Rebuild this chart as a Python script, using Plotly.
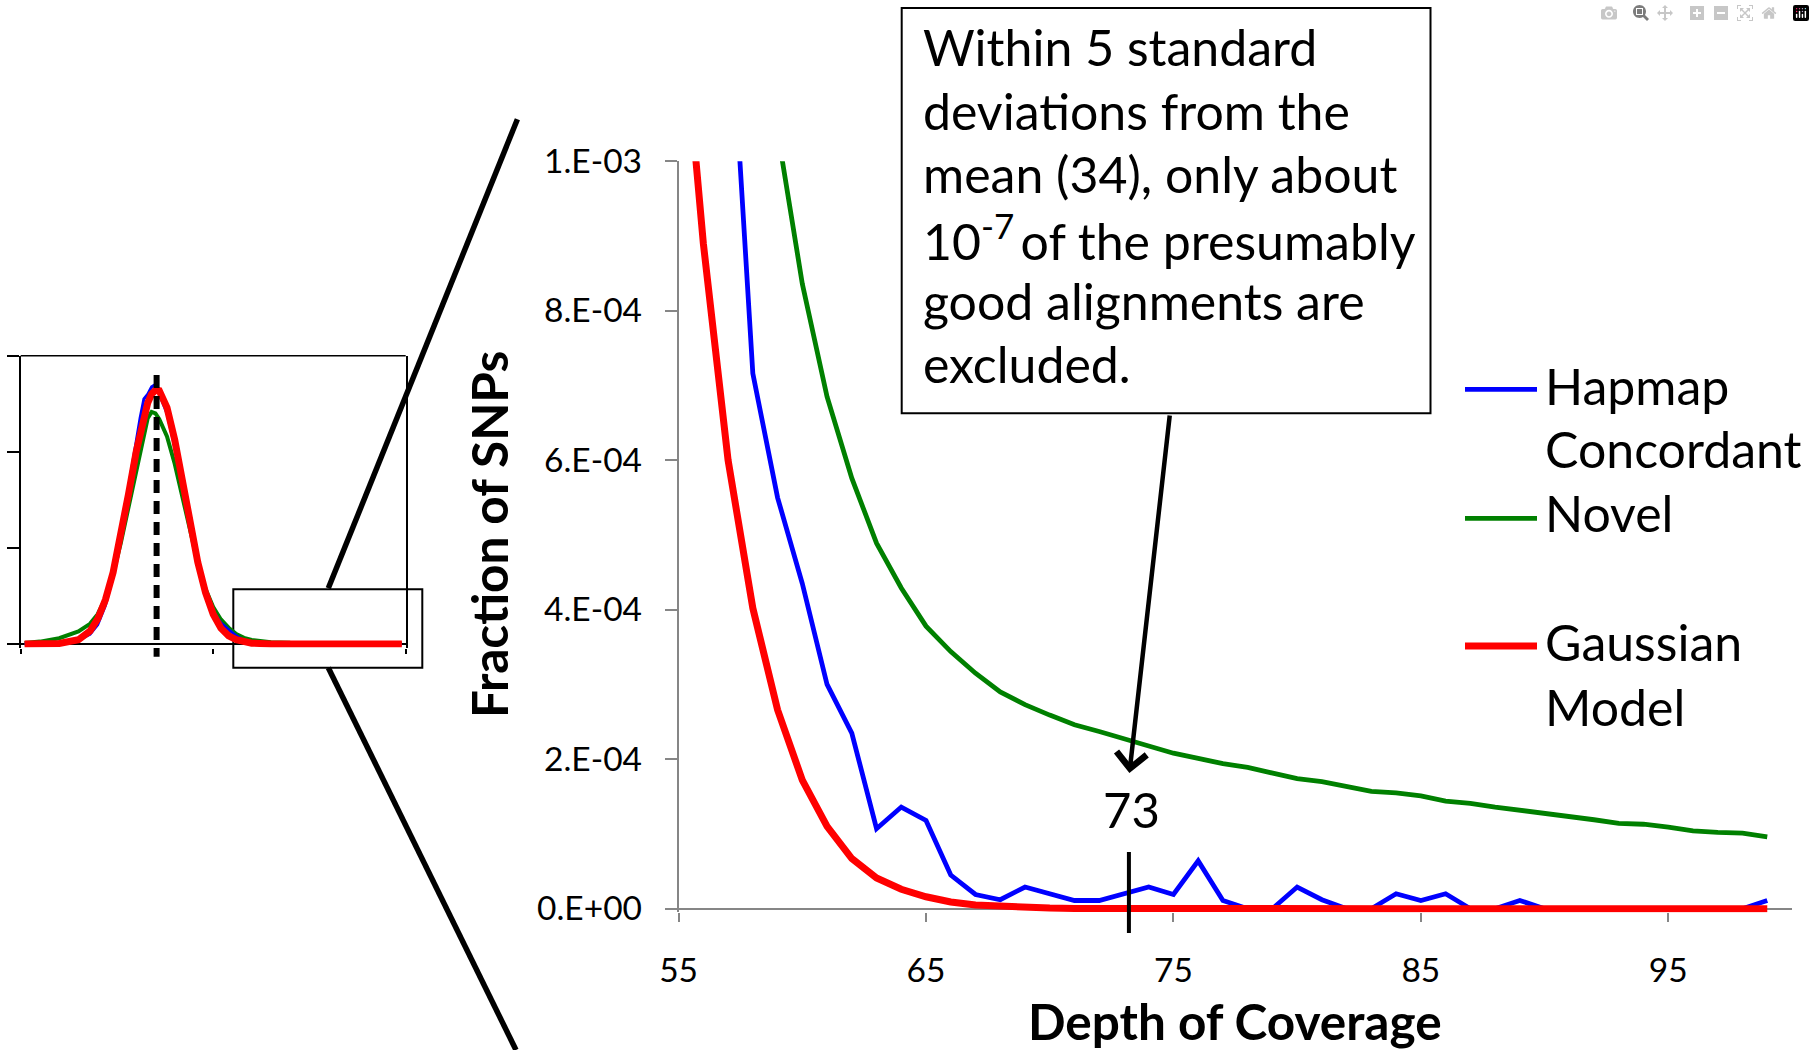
import plotly.graph_objects as go

W, H = 1815, 1050
FONT = "Lato, 'Open Sans', sans-serif"

# ---------------- data (main, zoomed view) ----------------
depth = [55, 56, 57, 58, 59, 60, 61, 62, 63, 64, 65, 66, 67, 68, 69, 70, 71, 72, 73, 74,
         75, 76, 77, 78, 79, 80, 81, 82, 83, 84, 85, 86, 87, 88, 89, 90, 91, 92, 93, 94,
         95, 96, 97, 98, 99]
# fractions in units of 1e-4
hapmap_concordant = [26.0, 17.0, 12.6, 7.16, 5.50, 4.35, 3.00, 2.35, 1.07, 1.36,
                     1.18, 0.45, 0.19, 0.12, 0.29, 0.20, 0.11, 0.11, 0.20, 0.29,
                     0.19, 0.64, 0.11, 0.0, 0.0, 0.29, 0.12, 0.0, 0.0, 0.20,
                     0.11, 0.20, 0.0, 0.0, 0.11, 0.0, 0.0, 0.0, 0.0, 0.0,
                     0.0, 0.0, 0.0, 0.0, 0.11]
novel = [27.0, 20.5, 15.8, 12.7, 10.4, 8.36, 6.85, 5.76, 4.89, 4.29,
         3.78, 3.44, 3.15, 2.90, 2.73, 2.59, 2.46, 2.37, 2.27, 2.17,
         2.08, 2.01, 1.94, 1.89, 1.82, 1.74, 1.70, 1.64, 1.57, 1.55,
         1.51, 1.44, 1.41, 1.36, 1.32, 1.28, 1.23, 1.19, 1.14, 1.13,
         1.09, 1.04, 1.02, 1.01, 0.96]
gaussian_model = [12.6, 8.9, 6.0, 4.02, 2.66, 1.72, 1.10, 0.67, 0.41, 0.26,
                  0.16, 0.09, 0.05, 0.03, 0.015, 0.008, 0.004, 0.002, 0.001, 0.0005,
                  0.0, 0.0, 0.0, 0.0, 0.0, 0.0, 0.0, 0.0, 0.0, 0.0,
                  0.0, 0.0, 0.0, 0.0, 0.0, 0.0, 0.0, 0.0, 0.0, 0.0,
                  0.0, 0.0, 0.0, 0.0, 0.0]
UNIT = 1e-4

# ---------------- data (overview inset) ----------------
overview_depth = [1, 5, 10, 15, 18, 20, 22, 24, 26, 28, 30, 31, 32, 33, 34, 35, 36, 38,
                  40, 42, 44, 46, 48, 50, 52, 54, 56, 58, 60, 65, 70, 80, 90, 99]
overview_hapmap = [0.0, 0.00003, 0.0002, 0.0008, 0.0020, 0.0040, 0.0080, 0.0140, 0.0222,
                   0.0325, 0.0425, 0.0470, 0.0510, 0.0520, 0.0535, 0.0540, 0.0520, 0.0480,
                   0.0410, 0.0325, 0.0240, 0.0165, 0.0108, 0.0068, 0.0044, 0.0030, 0.0017,
                   0.00072, 0.000435, 0.000118, 0.00002, 0.00003, 0.0, 0.00001]
overview_novel = [0.0002, 0.0005, 0.0012, 0.0026, 0.0042, 0.0062, 0.0095, 0.0145, 0.0210,
                  0.0285, 0.0365, 0.0400, 0.0435, 0.0470, 0.0483, 0.0480, 0.0468, 0.0432,
                  0.0375, 0.0305, 0.0232, 0.0168, 0.0115, 0.0077, 0.0051, 0.0034, 0.00205,
                  0.00127, 0.00084, 0.00038, 0.00026, 0.00017, 0.00013, 0.0001]
overview_gaussian = [0.0, 0.0, 0.0001, 0.0009, 0.0027, 0.0052, 0.0092, 0.0149, 0.0224,
                     0.0312, 0.0400, 0.0440, 0.0475, 0.0502, 0.0520, 0.0528, 0.0527, 0.0492,
                     0.0425, 0.0339, 0.0250, 0.0170, 0.0107, 0.0062, 0.0033, 0.0017, 0.0009,
                     0.0004, 0.00017, 0.00002, 0.0, 0.0, 0.0, 0.0]

x_tick_vals = [55, 65, 75, 85, 95]
y_tick_vals = [0, 2e-4, 4e-4, 6e-4, 8e-4, 1e-3]
y_tick_text = ["0.E+00", "2.E-04", "4.E-04", "6.E-04", "8.E-04", "1.E-03"]
overview_x_ticks = [0, 50, 100]
overview_y_ticks = [0, 0.02, 0.04, 0.06]

series_colors = ["#0000FF", "#008000", "#FF0000"]
x_title = "Depth of Coverage"
y_title = "Fraction of SNPs"
box_lines = ["Within 5 standard", "deviations from the", "mean (34), only about",
             "10<sup>-7</sup>\u2009of the presumably", "good alignments are", "excluded."]
legend_text = [("Hapmap", 405.0), ("Concordant", 468.3), ("Novel", 532.7),
               ("Gaussian", 661.7), ("Model", 726.7)]
cutoff_depth = 73.2
cutoff_label = "73"
mean_depth = 35.3


def px(x):
    return x / W


def py(y):
    return 1 - y / H


GRAY = "#868686"

fig = go.Figure()

# inset traces
fig.add_trace(go.Scatter(x=overview_depth, y=overview_novel, mode="lines",
                         line=dict(color=series_colors[1], width=4), xaxis="x2", yaxis="y2",
                         hoverinfo="skip"))
fig.add_trace(go.Scatter(x=overview_depth, y=overview_hapmap, mode="lines",
                         line=dict(color=series_colors[0], width=3), xaxis="x2", yaxis="y2",
                         hoverinfo="skip"))
fig.add_trace(go.Scatter(x=overview_depth, y=overview_gaussian, mode="lines",
                         line=dict(color=series_colors[2], width=7), xaxis="x2", yaxis="y2",
                         hoverinfo="skip"))

# main traces
fig.add_trace(go.Scatter(x=depth, y=[v * UNIT for v in hapmap_concordant], mode="lines",
                         name="Hapmap Concordant", line=dict(color=series_colors[0], width=4.8)))
fig.add_trace(go.Scatter(x=depth, y=[v * UNIT for v in novel], mode="lines",
                         name="Novel", line=dict(color=series_colors[1], width=4.8)))
fig.add_trace(go.Scatter(x=depth, y=[v * UNIT for v in gaussian_model], mode="lines",
                         name="Gaussian Model", line=dict(color=series_colors[2], width=7)))

# geometry (pixels)
main_left, main_right = 678.6, 1792.0
y0_px, ppu = 908.7, 747.5  # pixel of 0, pixels per 1e-3
y_top_px = y0_px - ppu
y_ext = 5e-6
y_bot_px = y0_px + y_ext / 1e-3 * ppu

in_left, in_right = 20.7, 405.7
in_y0, in_top = 644.0, 355.7
in_ext = 0.00075
in_bot = in_y0 + in_ext / 0.06 * (in_y0 - in_top)

fig.update_layout(
    width=W, height=H, autosize=False,
    margin=dict(l=0, r=0, t=0, b=0, pad=0, autoexpand=False),
    paper_bgcolor="white", plot_bgcolor="rgba(0,0,0,0)",
    showlegend=False,
    font=dict(family=FONT, color="black"),
    xaxis=dict(domain=[px(main_left), px(main_right)], range=[55, 100],
               tickmode="array", tickvals=x_tick_vals, ticks="outside",
               ticklen=920.7 - y_bot_px, tickwidth=1.75, tickcolor=GRAY,
               showline=False, showgrid=False, zeroline=False, automargin=False,
               tickfont=dict(family=FONT, size=33.5, color="black"),
               ticklabelstandoff=20, anchor="y"),
    yaxis=dict(domain=[py(y_bot_px), py(y_top_px)], range=[-y_ext, 1e-3],
               tickmode="array", tickvals=y_tick_vals, ticktext=y_tick_text,
               ticks="outside", ticklen=12, tickwidth=1.75, tickcolor=GRAY,
               showline=True, linecolor=GRAY, linewidth=1.75,
               zeroline=True, zerolinecolor=GRAY, zerolinewidth=1.75, automargin=False,
               showgrid=False, tickfont=dict(family=FONT, size=33.5, color="black"),
               ticklabelstandoff=16, anchor="x"),
    xaxis2=dict(domain=[px(in_left), px(in_right)], range=[0, 100],
                tickmode="array", tickvals=overview_x_ticks, ticks="outside",
                ticklen=653.3 - in_bot, tickwidth=1.5, tickcolor="black",
                showticklabels=False, showline=False, showgrid=False, zeroline=False,
                automargin=False, anchor="y2"),
    yaxis2=dict(domain=[py(in_bot), py(in_top)], range=[-in_ext, 0.06],
                tickmode="array", tickvals=overview_y_ticks, ticks="outside",
                ticklen=12.4, tickwidth=1.5, tickcolor="black",
                showticklabels=False, showline=True, mirror=True,
                linecolor="black", linewidth=1.5,
                zeroline=True, zerolinecolor="black", zerolinewidth=1.5,
                showgrid=False, automargin=False, anchor="x2"),
)

shapes = []
# inset top border
shapes.append(dict(type="line", xref="paper", yref="paper", x0=px(in_left), x1=px(in_right),
                   y0=py(in_top), y1=py(in_top), line=dict(color="black", width=1.5)))
# inset mean dashed line
shapes.append(dict(type="line", xref="x2", yref="paper", x0=mean_depth, x1=mean_depth,
                   y0=py(375), y1=py(656.7),
                   line=dict(color="black", width=6, dash="13px,8px")))
# zoom rectangle in inset
shapes.append(dict(type="rect", xref="paper", yref="paper", x0=px(233.3), x1=px(422.3),
                   y0=py(667.7), y1=py(589.3), line=dict(color="black", width=2),
                   layer="below"))
# leader lines
shapes.append(dict(type="line", xref="paper", yref="paper", x0=px(328.3), y0=py(588.3),
                   x1=px(517.4), y1=py(119.2), line=dict(color="black", width=5.5)))
shapes.append(dict(type="line", xref="paper", yref="paper", x0=px(328.3), y0=py(667.7),
                   x1=px(516.0), y1=py(1050), line=dict(color="black", width=5.5)))
# cutoff marker
shapes.append(dict(type="line", xref="x", yref="paper", x0=cutoff_depth, x1=cutoff_depth,
                   y0=py(852), y1=py(933), line=dict(color="black", width=4)))
# text box
shapes.append(dict(type="rect", xref="paper", yref="paper", x0=px(901.7), x1=px(1430.5),
                   y0=py(413.3), y1=py(8.0), line=dict(color="black", width=2),
                   fillcolor="white"))
# legend swatches
legend_line_y = [389.3, 518.3, 646.0]
legend_widths = [4.8, 4.8, 7]
for c, ly, lw in zip(series_colors, legend_line_y, legend_widths):
    shapes.append(dict(type="line", xref="paper", yref="paper", x0=px(1465), x1=px(1537),
                       y0=py(ly), y1=py(ly), line=dict(color=c, width=lw)))
fig.update_layout(shapes=shapes)

ann = []
DROP = 19.4  # baseline-to-box-centre offset for 50px text
# text box lines
for i, t in enumerate(box_lines):
    base = 66.7 + i * 63.4
    ann.append(dict(text=t, xref="paper", yref="paper", x=px(921), y=py(base - DROP),
                    xanchor="left", yanchor="middle", showarrow=False,
                    font=dict(family=FONT, size=50, color="black")))
# legend labels
for t, base in legend_text:
    ann.append(dict(text=t, xref="paper", yref="paper", x=px(1543), y=py(base - DROP),
                    xanchor="left", yanchor="middle", showarrow=False,
                    font=dict(family=FONT, size=50, color="black")))
# axis titles
ann.append(dict(text="<b>" + x_title + "</b>", xref="paper", yref="paper",
                x=px((main_left + main_right) / 2), y=py(1021), xanchor="center",
                yanchor="middle", showarrow=False,
                font=dict(family=FONT, size=49.5, color="black")))
ann.append(dict(text="<b>" + y_title + "</b>", xref="paper", yref="paper",
                x=px(489), y=py(535), xanchor="center", yanchor="middle",
                textangle=-90, showarrow=False,
                font=dict(family=FONT, size=49.5, color="black")))
# cutoff label
ann.append(dict(text=cutoff_label, xref="x", yref="paper", x=cutoff_depth + 0.1,
                y=py(809), xanchor="center", yanchor="middle", showarrow=False,
                font=dict(family=FONT, size=49, color="black")))
# arrow from box to cutoff
ann.append(dict(text="", xref="x", yref="paper", x=cutoff_depth + 0.02, y=py(773),
                showarrow=True, ax=40.5, ay=-359, axref="pixel", ayref="pixel",
                arrowhead=4, arrowsize=1.3, arrowwidth=4.5, arrowcolor="black",
                standoff=0))
fig.update_layout(annotations=ann)

fig.write_html("out.html", include_plotlyjs=True,
               post_script="document.body.style.margin='0';document.body.style.overflow='hidden';")
